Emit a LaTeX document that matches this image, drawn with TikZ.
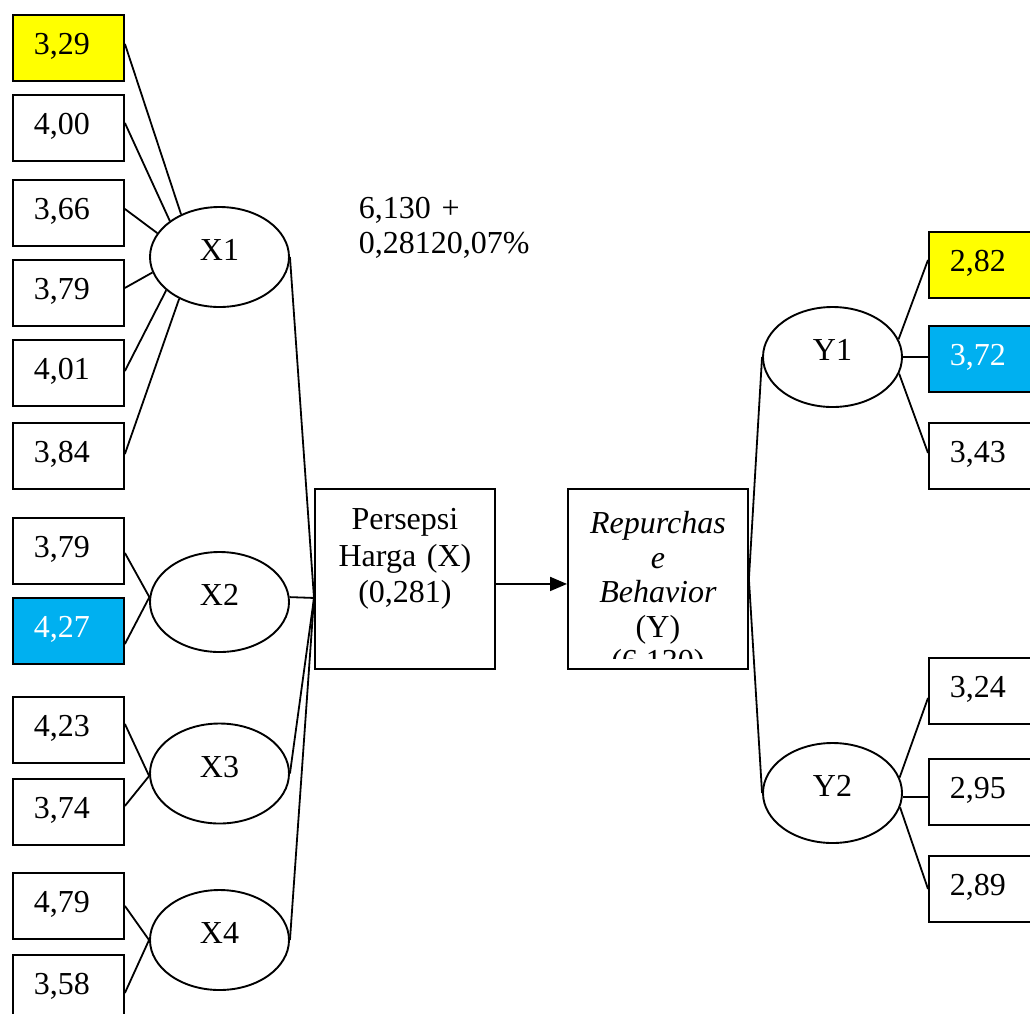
\documentclass[tikz,border=0pt]{standalone}
\usepackage{fontspec}
\setmainfont{Liberation Serif}
\usetikzlibrary{shapes.geometric,arrows.meta}
\definecolor{hlyellow}{RGB}{255,255,0}
\definecolor{hlcyan}{RGB}{0,176,240}
\begin{document}
\begin{tikzpicture}[x=1pt,y=-1pt,line width=1.9pt,
  every node/.style={font=\fontsize{32}{36.5}\selectfont},
  ind/.style={draw, rectangle, minimum width=111pt, minimum height=66pt,
    inner xsep=21pt, inner ysep=0pt, text width=69pt, align=left,
    text height=24pt, text depth=10pt, anchor=north west},
  lat/.style={draw, ellipse, minimum width=139pt, minimum height=100pt,
    inner sep=0pt, text height=22pt, text depth=15pt},
  bigbox/.style={draw, rectangle, minimum width=180pt, minimum height=180pt,
    inner sep=0pt, anchor=north west},
  bigtext/.style={anchor=north, inner sep=0pt, text width=176pt, align=center},
  link/.style={line width=1.8pt}
]
\useasboundingbox (0,0) rectangle (1030,1013);

% left indicator boxes
\node[ind, fill=hlyellow] (a1) at (12,14) {3,29};
\node[ind] (a2) at (12,94) {4,00};
\node[ind] (a3) at (12,179) {3,66};
\node[ind] (a4) at (12,259) {3,79};
\node[ind] (a5) at (12,339) {4,01};
\node[ind] (a6) at (12,422) {3,84};
\node[ind] (a7) at (12,517) {3,79};
\node[ind, fill=hlcyan, text=white] (a8) at (12,597) {4,27};
\node[ind] (a9) at (12,696) {4,23};
\node[ind] (a10) at (12,778) {3,74};
\node[ind] (a11) at (12,872) {4,79};
\node[ind] (a12) at (12,954) {3,58};

% latent ellipses
\node[lat] (X1) at (219.5,257) {X1};
\node[lat] (X2) at (219.5,602) {X2};
\node[lat] (X3) at (219.5,773.5) {X3};
\node[lat] (X4) at (219.5,940) {X4};
\node[lat] (Y1) at (832.5,357) {Y1};
\node[lat] (Y2) at (832.5,793) {Y2};

% right indicator boxes
\node[ind, fill=hlyellow] (c1) at (928,231) {2,82};
\node[ind, fill=hlcyan, text=white] (c2) at (928,325) {3,72};
\node[ind] (c3) at (928,422) {3,43};
\node[ind] (d1) at (928,657) {3,24};
\node[ind] (d2) at (928,758) {2,95};
\node[ind] (d3) at (928,855) {2,89};

% central boxes
\node[bigbox] (P) at (314,488) {};
\node[bigtext, text height=41pt] (Pt) at (P.north) {Persepsi\\Harga (X)\\(0,281)};
\node[bigbox] (R) at (567,488) {};
\begin{scope}
  \clip (R.north west) rectangle ([yshift=11pt]R.south east);
  \node[bigtext, text height=45pt, font=\fontsize{32}{34.5}\selectfont] (Rt) at (R.north)
    {\textit{Repurchas}\\\textit{e}\\\textit{Behavior}\\(Y)\\(6,130)};
\end{scope}

% equation text
\node[anchor=north west, inner sep=0pt, text width=250pt, align=left,
  text height=28pt, font=\fontsize{32}{35}\selectfont] (eq) at (358,190)
  {6,130 +\\0,28120,07\%};

\coordinate (conv) at ([yshift=-19pt]P.west);

% X1 indicators
\draw[link] ([yshift=4pt]a1.east) -- (X1.132);
\draw[link] ([yshift=5pt]a2.east) -- (X1.144);
\draw[link] ([yshift=4pt]a3.east) -- (X1.159);
\draw[link] ([yshift=5pt]a4.east) -- (X1.193);
\draw[link] ([yshift=2pt]a5.east) -- (X1.212);
\draw[link] ([yshift=2pt]a6.east) -- (X1.226);
% X2
\draw[link] ([yshift=-2pt]a7.east) -- (X2.176);
\draw[link] ([yshift=-13pt]a8.east) -- (X2.176);
% X3
\draw[link] ([yshift=6pt]a9.east) -- (X3.182);
\draw[link] ([yshift=6pt]a10.east) -- (X3.182);
% X4
\draw[link] (a11.east) -- (X4.180);
\draw[link] ([yshift=-5pt]a12.east) -- (X4.180);

% X to Persepsi
\draw[link] (X1.east) -- (conv);
\draw[link] (X2.4) -- (conv);
\draw[link] (X3.east) -- (conv);
\draw[link] (X4.east) -- (conv);

% arrow
\draw[link, -{Triangle[length=17pt,width=14pt]}] ([yshift=-5pt]P.east) -- ([yshift=-5pt]R.west);

% Y to Repurchase
\draw[link] (Y1.west) -- (R.east);
\draw[link] (Y2.west) -- (R.east);

% Y1 indicators
\draw[link] (Y1.15) -- ([yshift=5pt]c1.west);
\draw[link] (Y1.east) -- (Y1.east -| c2.west);
\draw[link] (Y1.-14) -- ([yshift=3pt]c3.west);
% Y2 indicators
\draw[link] (Y2.13) -- ([yshift=-7pt]d1.west);
\draw[link] (Y2.-3) -- (Y2.-3 -| d2.west);
\draw[link] (Y2.-12) -- (d3.west);
\end{tikzpicture}
\end{document}
